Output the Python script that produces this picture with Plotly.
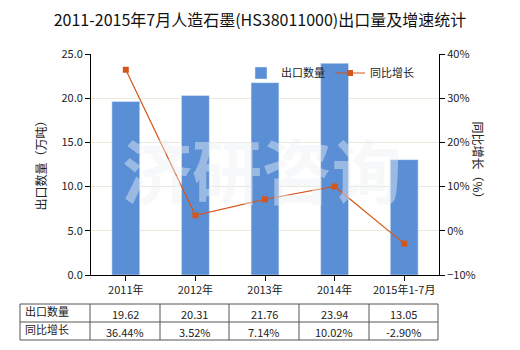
import plotly.graph_objects as go

categories = ["2011年", "2012年", "2013年", "2014年", "2015年1-7月"]
export_qty = [19.62, 20.31, 21.76, 23.94, 13.05]
growth = [36.44, 3.52, 7.14, 10.02, -2.90]
qty_labels = ["19.62", "20.31", "21.76", "23.94", "13.05"]
growth_labels = ["36.44%", "3.52%", "7.14%", "10.02%", "-2.90%"]
row_names = ["出口数量", "同比增长"]

W, H = 520, 350
L, R, T, B = 91, 439, 54, 275
FONT = "Noto Sans CJK SC, Microsoft YaHei, sans-serif"

def px(x):
    return (x - L) / (R - L)

def py(y):
    return (B - y) / (B - T)

fig = go.Figure()
fig.add_trace(go.Bar(x=categories, y=export_qty, name="出口数量",
                     marker=dict(color="#5a8fd6"), width=0.4, yaxis="y"))
fig.add_trace(go.Scatter(x=categories, y=growth, name="同比增长", mode="lines+markers",
                         line=dict(color="#d4561a", width=1.2),
                         marker=dict(symbol="square", size=6, color="#d4561a"),
                         yaxis="y2"))

shapes = []
annotations = []
# table
tx0, tx1 = 20, 438
ty = [304, 322, 340]
cols = [20, 90, 160, 229, 299, 369, 438]
line = dict(color="#555555", width=1)
for y in ty:
    shapes.append(dict(type="line", xref="paper", yref="paper", x0=px(tx0), x1=px(tx1),
                       y0=py(y), y1=py(y), line=line))
for x in cols:
    shapes.append(dict(type="line", xref="paper", yref="paper", x0=px(x), x1=px(x),
                       y0=py(ty[0]), y1=py(ty[2]), line=line))
rows = [qty_labels, growth_labels]
for r in range(2):
    yc = (ty[r] + ty[r + 1]) / 2
    annotations.append(dict(xref="paper", yref="paper", x=px(23), y=py(yc - 2), xanchor="left",
                            yanchor="middle", text=row_names[r], showarrow=False,
                            font=dict(size=11, color="#222", family=FONT)))
    for c in range(5):
        xc = (cols[c + 1] + cols[c + 2]) / 2
        annotations.append(dict(xref="paper", yref="paper", x=px(xc), y=py(yc + 1),
                                xanchor="center", yanchor="middle", text=rows[r][c],
                                showarrow=False, font=dict(size=11, color="#222", family=FONT)))

# watermark
annotations.append(dict(xref="paper", yref="paper", x=px(262), y=py(168), text="<b>济研咨询</b>",
                        showarrow=False, font=dict(size=70, color="rgba(235,239,245,0.45)",
                                                   family=FONT)))
# axis titles
annotations.append(dict(xref="paper", yref="paper", x=px(29), y=py(163), text="出口数量（万吨）",
                        textangle=-90, showarrow=False,
                        font=dict(size=12, color="#222", family=FONT)))
annotations.append(dict(xref="paper", yref="paper", x=px(489), y=py(163), text="同比增长（%）",
                        textangle=90, showarrow=False,
                        font=dict(size=12, color="#222", family=FONT)))

fig.update_layout(
    width=W, height=H,
    margin=dict(l=L, r=W - R, t=T, b=H - B, pad=0),
    paper_bgcolor="white", plot_bgcolor="white",
    title=dict(text="2011-2015年7月人造石墨(HS38011000)出口量及增速统计", x=0.5, xanchor="center",
               y=1 - 20 / H, yanchor="middle", font=dict(size=16, color="#111", family=FONT)),
    font=dict(family=FONT, size=11, color="#222"),
    xaxis=dict(showline=True, linecolor="#000", ticks="outside", ticklen=5, tickcolor="#000",
               tickfont=dict(size=11), showgrid=False),
    yaxis=dict(range=[0, 25], dtick=5, tickformat=".1f", showline=True, linecolor="#000",
               ticks="outside", ticklen=5, tickcolor="#000", gridcolor="#ebe9dc",
               zeroline=False, tickfont=dict(size=11)),
    yaxis2=dict(range=[-10, 40], dtick=10, ticksuffix="%", overlaying="y", side="right",
                showline=True, linecolor="#000", ticks="outside", ticklen=5, tickcolor="#000",
                showgrid=False, zeroline=False, tickfont=dict(size=11)),
    legend=dict(orientation="h", x=px(241), y=py(73), xanchor="left", yanchor="middle",
                bgcolor="rgba(0,0,0,0)", font=dict(size=11, family=FONT), itemwidth=30),
    shapes=shapes, annotations=annotations, showlegend=True,
)

fig.write_html("out.html")
